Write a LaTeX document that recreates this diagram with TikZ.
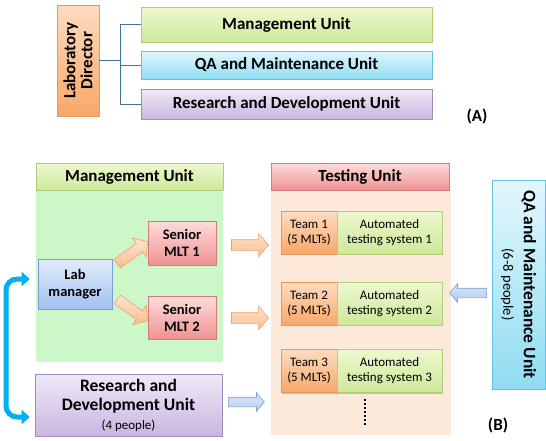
\documentclass[tikz,border=0pt]{standalone}
\usepackage{fontspec}
\setmainfont{Carlito}
\usetikzlibrary{calc,shapes.arrows,arrows.meta,shadows}

\definecolor{grT}{HTML}{EEF8CF}\definecolor{grB}{HTML}{CDE89A}\definecolor{grD}{HTML}{AFCF72}
\definecolor{cyT}{HTML}{E2F7FD}\definecolor{cyB}{HTML}{8FDCF2}\definecolor{cyD}{HTML}{66C2DC}
\definecolor{puT}{HTML}{F0E9F7}\definecolor{puB}{HTML}{C9B6E0}\definecolor{puD}{HTML}{A08CC0}
\definecolor{orT}{HTML}{FDDCC0}\definecolor{orB}{HTML}{F8A768}\definecolor{orD}{HTML}{E39A60}
\definecolor{reT}{HTML}{FDDCDC}\definecolor{reB}{HTML}{F09292}\definecolor{reD}{HTML}{D47C7C}
\definecolor{blT}{HTML}{E2ECFB}\definecolor{blB}{HTML}{A3C0F0}\definecolor{blD}{HTML}{7B9DD6}
\definecolor{mgbg}{HTML}{CCF7C8}\definecolor{tsbg}{HTML}{FDE9DA}
\definecolor{connc}{HTML}{41719C}\definecolor{bracketc}{HTML}{00B0F0}
\definecolor{oaT}{HTML}{FDE4CF}\definecolor{oaB}{HTML}{F9BE90}\definecolor{oaD}{HTML}{EFA06A}
\definecolor{baT}{HTML}{DCE7F8}\definecolor{baB}{HTML}{B3CBEE}\definecolor{baD}{HTML}{7F9ED3}

\newcommand\myblockarrow[3]{%
  \path let \p1=($(#3)-(#2)$), \n1={atan2(\y1,\x1)}, \n2={veclen(\x1,\y1)} in
    node[#1, rotate=\n1, minimum height=\n2] at ($(#2)!0.5!(#3)$) {};}

\begin{document}
\begin{tikzpicture}[x=1pt,y=-1pt,
  base/.style={rectangle, inner sep=2pt, align=center, line width=0.6pt,
    drop shadow={shadow xshift=1pt, shadow yshift=-1pt, opacity=0.2, fill=black}},
  greenbox/.style={base, draw=grD, top color=grT, bottom color=grB},
  cyanbox/.style={base, draw=cyD, top color=cyT, bottom color=cyB},
  purplebox/.style={base, draw=puD, top color=puT, bottom color=puB},
  orangebox/.style={base, draw=orD, top color=orT, bottom color=orB},
  redbox/.style={base, draw=reD, top color=reT, bottom color=reB},
  bluebox/.style={base, draw=blD, top color=blT, bottom color=blB},
  hfont/.style={font=\fontsize{17}{19}\selectfont\bfseries},
  bigfont/.style={font=\fontsize{17.5}{19.5}\selectfont\bfseries},
  mfont/.style={font=\fontsize{14.5}{17}\selectfont\bfseries},
  sfont/.style={font=\fontsize{13}{15}\selectfont},
  conn/.style={draw=connc, line width=1pt},
  oarrow/.style={single arrow, draw=oaD, top color=oaT, bottom color=oaB, line width=0.6pt,
    inner sep=5pt, single arrow head extend=6.5pt, single arrow tip angle=100},
  barrow/.style={single arrow, draw=baD, top color=baT, bottom color=baB, line width=0.6pt,
    inner sep=4.5pt, single arrow head extend=4.5pt, single arrow tip angle=100},
  bgbox/.style={rectangle, draw=none, inner sep=0pt}
]
\useasboundingbox (0,0) rectangle (546,440);

% ---------- (A) ----------
\node[orangebox, hfont, rotate=90, minimum width=111, minimum height=42] (ld) at (78,60.5)
  {Laboratory\\[-2pt]Director};
\node[greenbox, hfont, minimum width=291, minimum height=35] (mu) at (286.5,24.5) {Management Unit};
\node[cyanbox, hfont, minimum width=291, minimum height=28] (qa) at (286.5,65) {QA and Maintenance Unit};
\node[purplebox, hfont, minimum width=291, minimum height=30] (rd) at (286.5,104) {Research and Development Unit};
\coordinate (jx) at (120,0);
% ld is rotated by 90 degrees: its "south" anchor is its right side
\draw[conn] (ld.south) -- (ld.south -| jx);
\draw[conn] (mu.west) -- (mu.west -| jx) -- (rd.west -| jx) -- (rd.west);
\draw[conn] (qa.west) -- (qa.west -| jx);
\node[hfont] (labA) at (477,116) {(A)};

% ---------- (B) ----------
\node[bgbox, fill=mgbg, minimum width=187, minimum height=172] (mgbg) at (129.5,276) {};
\node[greenbox, hfont, minimum width=187, minimum height=27] (mghead) at (129.5,176.5) {Management Unit};
\node[bgbox, fill=tsbg, minimum width=180, minimum height=245] (tbg) at (361,312.5) {};
\node[redbox, hfont, minimum width=178, minimum height=27] (thead) at (360,176.5) {Testing Unit};

\node[bluebox, mfont, minimum width=74, minimum height=50] (lab) at (75,284) {Lab\\manager};
\node[redbox, mfont, minimum width=68, minimum height=44] (s1) at (182,243) {Senior\\MLT 1};
\node[redbox, mfont, minimum width=68, minimum height=43] (s2) at (182,317.5) {Senior\\MLT 2};

\node[purplebox, bigfont, minimum width=187, minimum height=62, inner sep=1pt] (rdb) at (128.5,405)
  {Research and\\Development Unit\\[-1pt]\fontsize{13}{14}\selectfont\mdseries (4 people)};

\foreach \i/\y in {1/232.5, 2/303.5, 3/371} {
  \node[orangebox, sfont, minimum width=56, minimum height=43, inner sep=1pt] (t\i) at (309,\y) {Team \i\\(5 MLTs)};
  \node[greenbox, sfont, minimum width=105, minimum height=43, inner sep=1pt] (a\i) at (389.5,\y) {Automated\\testing system \i};
}
\coordinate (d1) at ($(a3.south west)+(28,6)$);
\coordinate (d2) at ($(a3.south west)+(28,32)$);
\draw[line width=2pt, dash pattern=on 2pt off 2pt, black] (d1) -- (d2);

\node[cyanbox, bigfont, rotate=-90, minimum width=209, minimum height=53, inner sep=1pt] (qab) at (518.5,284.5)
  {QA and Maintenance Unit\\[1pt]\fontsize{14.5}{16}\selectfont\mdseries (6-8 people)};

\node[hfont] (labB) at (498,425) {(B)};

% block arrows (qab is rotated by -90 degrees: its "south" anchor is its left side)
\coordinate (p1s) at ($(lab.east)+(3,-19)$); \coordinate (p1e) at ($(s1.west)+(-2,0)$);
\coordinate (p2s) at ($(lab.east)+(3,14)$);  \coordinate (p2e) at ($(s2.west)+(-2,2)$);
\coordinate (p3s) at ($(s1.east)+(13,2)$);   \coordinate (p3e) at ($(s1.east)+(50,2)$);
\coordinate (p4s) at ($(s2.east)+(13,0.5)$); \coordinate (p4e) at ($(s2.east)+(50,0.5)$);
\coordinate (p5s) at ($(rdb.east)+(4,-3)$);  \coordinate (p5e) at ($(rdb.east)+(40,-3)$);
\coordinate (p6s) at ($(qab.south)+(-3,8.5)$); \coordinate (p6e) at ($(qab.south)+(-40,8.5)$);
\myblockarrow{oarrow}{p1s}{p1e}
\myblockarrow{oarrow}{p2s}{p2e}
\myblockarrow{oarrow}{p3s}{p3e}
\myblockarrow{oarrow}{p4s}{p4e}
\myblockarrow{barrow}{p5s}{p5e}
\myblockarrow{barrow}{p6s}{p6e}

% cyan bracket arrow
\coordinate (ctop) at ($(lab.west)+(-8,-5)$);
\coordinate (cbot) at ($(rdb.west)+(-5,12)$);
\coordinate (xl) at (6,0);
\draw[bracketc, line width=5pt, rounded corners=11pt,
  {Triangle[length=8pt,width=14pt]}-{Triangle[length=8pt,width=14pt]}]
  (ctop) -- (ctop -| xl) -- (cbot -| xl) -- (cbot);
\end{tikzpicture}
\end{document}
